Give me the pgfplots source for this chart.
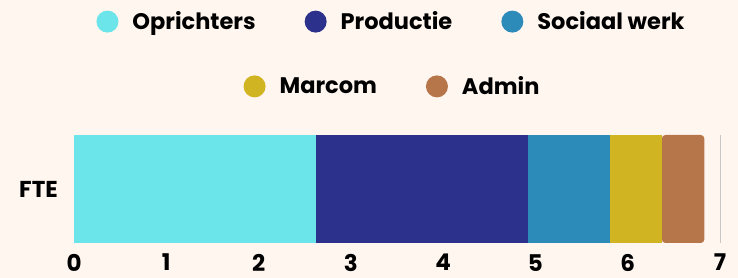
\documentclass[border=0pt]{standalone}
\usepackage{fontspec}
\setmainfont{Poppins}
\usepackage{pgfplots}
\pgfplotsset{compat=1.18}
\definecolor{bg}{HTML}{FFF6F0}
\definecolor{c1}{HTML}{6BE5E9}
\definecolor{c2}{HTML}{2C318C}
\definecolor{c3}{HTML}{2D8BBA}
\definecolor{c4}{HTML}{D1B421}
\definecolor{c5}{HTML}{B7754A}
\pgfplotsset{
  dotlegend/.style={
    legend image code/.code={\path[##1,draw=none] (11pt,0pt) circle (11pt);},
    legend style={draw=none, fill=none, inner sep=0pt, row sep=0pt,
      font=\bfseries\fontsize{22.5}{25}\selectfont,
      nodes={inner sep=0pt},
      /tikz/every odd column/.append style={column sep=14pt},
      /tikz/every even column/.append style={column sep=49pt}},
    legend columns=-1,
  }
}
\begin{document}
\begin{tikzpicture}
\fill[bg] (0,0) rectangle (738pt,278pt);
\begin{axis}[
  at={(74pt,35pt)}, anchor=south west,
  scale only axis, width=646pt, height=108pt,
  xbar stacked, bar width=108pt,
  xmin=0, xmax=7, ymin=-0.5, ymax=0.5,
  xtick={0,1,...,7}, ytick={0}, yticklabels={FTE},
  axis line style={draw=none}, major tick length=0pt,
  xmajorgrids, grid style={black!22, line width=0.6pt},
  /pgf/number format/assume math mode=true,
  tick label style={font=\bfseries\fontsize{23}{26}\selectfont, inner sep=0pt},
  xticklabel style={yshift=-11pt},
  yticklabel style={xshift=-16pt},
  dotlegend,
  legend style={at={(0.49,2.05)}, anchor=center},
  clip=false,
]
\addplot[fill=c1, draw=none] coordinates {(2.62,0)};
\addlegendentry{Oprichters}
\addplot[fill=c2, draw=none] coordinates {(2.30,0)};
\addlegendentry{Productie}
\addplot[fill=c3, draw=none] coordinates {(0.89,0)};
\addlegendentry{Sociaal werk}
\addplot[fill=c4, draw=none, forget plot] coordinates {(0.56,0)};
\addplot[fill=c5, draw=none, rounded corners=3.5pt, forget plot] coordinates {(0.46,0)};
\end{axis}
\begin{axis}[
  at={(74pt,35pt)}, anchor=south west,
  scale only axis, width=646pt, height=108pt,
  xmin=0, xmax=7, ymin=-0.5, ymax=0.5,
  hide axis, dotlegend,
  legend style={at={(0.4915,1.45)}, anchor=center},
]
\addlegendimage{fill=c4}
\addlegendentry{Marcom}
\addlegendimage{fill=c5}
\addlegendentry{Admin}
\end{axis}
\end{tikzpicture}
\end{document}
